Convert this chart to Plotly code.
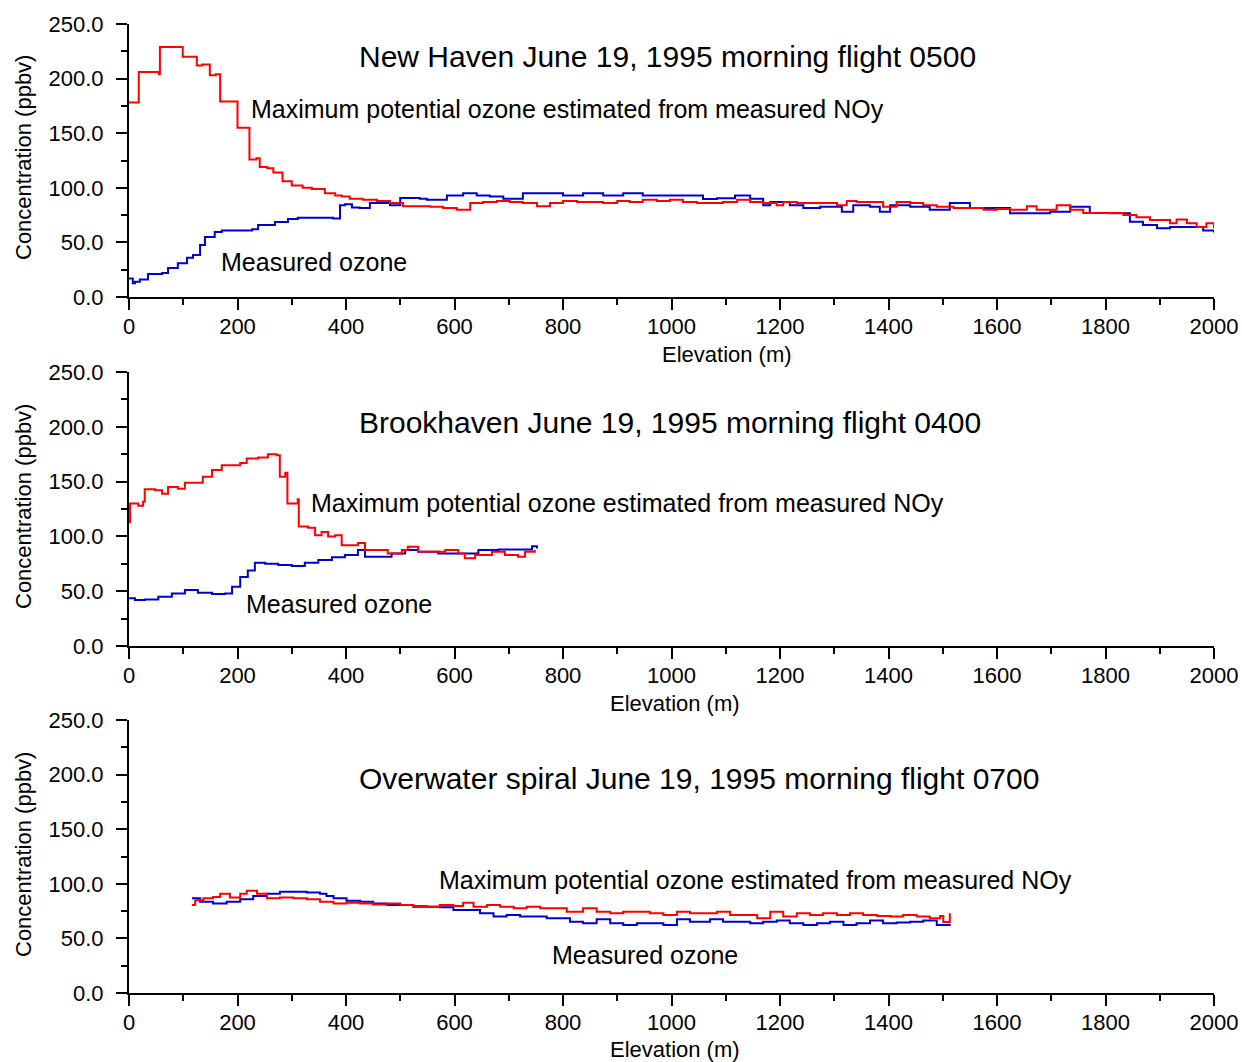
import plotly.graph_objects as go
from plotly.subplots import make_subplots

# ---------------- data ----------------
# Panel 1: New Haven, flight 0500
nh_red_x = [0, 18, 50, 55, 57, 99, 125, 135, 149, 160, 168, 200, 222, 235, 241, 255, 266, 283, 300, 320,
            337, 361, 380, 392, 407, 431, 457, 481, 505, 530, 555, 579, 604, 629, 653, 678, 702, 726, 752, 776,
            800, 826, 850, 874, 900, 923, 947, 973, 997, 1021, 1047, 1071, 1095, 1121, 1145, 1169, 1194, 1206,
            1231, 1268, 1305, 1323, 1341, 1366, 1390, 1415, 1440, 1464, 1489, 1520, 1550, 1575, 1599, 1624,
            1655, 1673, 1710, 1735, 1759, 1796, 1833, 1857, 1882, 1919, 1931, 1950, 1968, 1986, 2000]
nh_red_y = [178, 206, 206, 204, 229, 220, 212, 213, 203, 204, 179, 155, 126, 127, 119, 118, 114, 106, 102, 100,
            99, 95, 93, 92, 90, 89, 88, 86, 83, 83, 82.7, 81.5, 80, 86, 87, 88, 87, 86, 83, 86,
            88, 87, 87, 86, 88, 87, 89, 88, 89, 87, 86, 86, 87, 89, 87, 86, 84, 87,
            86, 86, 84, 88, 87, 87, 82.7, 87, 86, 84, 82.7, 81.5, 81.5, 80, 80.5, 80,
            83, 80, 84, 80, 77, 77, 75, 73, 70.5, 67.5, 71, 67.5, 64, 67.5, 63]
nh_blue_x = [0, 7, 11, 20, 35, 61, 72, 90, 107, 118, 131, 140, 158, 171, 200, 227, 238, 269, 293, 311,
             376, 389, 398, 411, 425, 444, 481, 500, 536, 549, 586, 616, 641, 665, 690, 726, 763, 800, 837,
             874, 911, 947, 984, 1034, 1058, 1084, 1117, 1145, 1169, 1182, 1218, 1243, 1274, 1305, 1314, 1335,
             1366, 1384, 1403, 1440, 1476, 1513, 1550, 1587, 1624, 1661, 1698, 1735, 1771, 1808, 1845, 1869,
             1895, 1919, 1956, 1980, 2000]
nh_blue_y = [17, 12.5, 14, 16, 21, 22, 26.5, 31, 36, 38.5, 47.6, 55, 59.5, 61, 61, 62, 66, 68.7, 71.4, 72.5,
             72, 84, 85, 82, 81.5, 86, 84, 90.6, 90, 89, 93, 95, 93, 92, 90, 95, 95, 93, 95,
             93, 95, 93, 93, 93, 89.7, 90.5, 93, 90, 84, 87, 84, 81.5, 82.7, 82.7, 78, 84,
             82.7, 78, 84, 82.7, 80, 86, 81.5, 81.5, 76.6, 76.6, 78, 82.7, 77, 76.6, 69, 66,
             63, 64, 64, 61, 59]

# Panel 2: Brookhaven, flight 0400
bh_red_x = [0, 2, 17, 26, 29, 48, 61, 72, 90, 103, 127, 136, 153, 171, 190, 205, 217, 238, 256, 272,
            278, 288, 292, 306, 311, 313, 330, 343, 355, 367, 380, 392, 422, 435, 459, 477, 503, 514, 533,
            558, 583, 607, 619, 638, 669, 693, 717, 730, 748]
bh_red_y = [113, 130, 128, 131.7, 143, 142, 139, 145, 143.5, 149, 149, 154.5, 160.6, 165, 165, 167, 171, 172, 175, 174,
            154.5, 158, 130, 130, 134, 109, 108, 101, 104, 100, 101, 92, 94, 87.6, 87.6, 84.5, 87.6, 90.6, 86,
            86, 87.6, 84.5, 80, 83, 86, 83, 81.5, 86, 87.6]
bh_blue_x = [0, 11, 29, 54, 79, 103, 127, 153, 177, 190, 205, 219, 232, 251, 275, 300, 324, 349, 374, 398,
             422, 435, 459, 484, 509, 533, 570, 607, 644, 681, 717, 743, 752]
bh_blue_y = [43.5, 42, 42.5, 45, 48, 51, 48.6, 47.5, 48, 54, 63, 69, 76, 75, 74, 73, 76, 78.5, 81, 83,
             87.6, 81.5, 81.5, 84.5, 87.6, 86, 84.5, 84.5, 87.6, 88, 88, 91, 89]

# Panel 3: Overwater spiral, flight 0700
ow_red_x = [116, 122, 137, 155, 168, 186, 205, 217, 236, 254, 278, 303, 328, 352, 377, 401, 426, 450, 475, 500,
            524, 549, 573, 598, 616, 635, 660, 684, 709, 733, 758, 782, 807, 837, 862, 887, 911, 936, 960,
            985, 1010, 1034, 1058, 1084, 1108, 1132, 1158, 1182, 1206, 1231, 1255, 1279, 1305, 1329, 1353,
            1379, 1403, 1427, 1452, 1476, 1495, 1501, 1513]
ow_red_y = [80.6, 85, 86.7, 88, 91, 87.5, 91, 93.7, 91, 86.7, 87.5, 86.7, 85.8, 83.6, 82, 82.6, 82, 81, 82, 80.6,
            79.7, 79, 80.6, 79.7, 82.6, 79, 80.6, 79, 77.5, 79, 77.5, 77.5, 74.5, 77.5, 74.5, 73, 74.5, 74.5, 73,
            71.4, 74.5, 73, 73, 74.5, 71.4, 71.4, 68.4, 74.5, 70, 73, 71.4, 73, 71.4, 73, 71.4,
            70.5, 70, 71.4, 70, 68.4, 70.5, 65, 73]
ow_blue_x = [116, 131, 155, 180, 205, 229, 254, 278, 303, 328, 352, 364, 377, 401, 426, 450, 475, 500, 524, 549,
             573, 598, 623, 647, 672, 696, 721, 745, 770, 813, 837, 862, 887, 911, 936, 960, 985, 1010, 1034,
             1058, 1071, 1095, 1120, 1145, 1169, 1194, 1218, 1243, 1268, 1292, 1317, 1341, 1366, 1390, 1415,
             1440, 1464, 1489, 1513]
ow_blue_y = [86.7, 83.6, 82, 83.6, 85.8, 88.8, 91, 92.8, 92.8, 92, 91, 88.8, 86.7, 84.5, 83.6, 82, 80.6, 80.6, 79, 79,
             78.5, 76, 76, 73, 70, 71.5, 70, 70, 68.4, 65.3, 63.8, 67.5, 63.8, 62.3, 63.8, 63.8, 62.3, 67.5, 65.3,
             65.3, 67.5, 65.3, 65.3, 63.8, 65.3, 66.3, 63.8, 62.3, 63.8, 65.3, 62.3, 63.8, 66.3, 63.8, 64.5,
             65.3, 66.3, 62.3, 61.5]

titles = ["New Haven June 19, 1995 morning flight 0500",
          "Brookhaven June 19, 1995 morning flight 0400",
          "Overwater spiral June 19, 1995 morning flight 0700"]
red_label = "Maximum potential ozone estimated from measured NOy"
blue_label = "Measured ozone"
x_title = "Elevation (m)"
y_title = "Concentration (ppbv)"

# ---------------- figure ----------------
W, H = 1242, 1062
ML, MR, MT, MB = 129, 28, 24, 69
PW, PH = W - ML - MR, H - MT - MB


def px(x):
    return (x - ML) / PW


def py(y):
    return (H - MB - y) / PH


domains = [[py(297), py(24)], [py(646), py(372)], [py(993), py(720)]]

fig = make_subplots(rows=3, cols=1)
RED = "#FF0000"
BLUE = "#0000CC"
FONT = "Liberation Sans, Arial, Helvetica, sans-serif"

series = [(nh_blue_x, nh_blue_y, nh_red_x, nh_red_y),
          (bh_blue_x, bh_blue_y, bh_red_x, bh_red_y),
          (ow_blue_x, ow_blue_y, ow_red_x, ow_red_y)]

for i, (bx, by, rx, ry) in enumerate(series, start=1):
    fig.add_trace(go.Scatter(x=bx, y=by, mode="lines", line=dict(color=BLUE, width=2, shape="hv"),
                             showlegend=False, hoverinfo="skip"), row=i, col=1)
    fig.add_trace(go.Scatter(x=rx, y=ry, mode="lines", line=dict(color=RED, width=2, shape="hv"),
                             showlegend=False, hoverinfo="skip"), row=i, col=1)

axis_common = dict(showline=True, linecolor="black", linewidth=2, ticks="outside", ticklen=11,
                   tickwidth=2, tickcolor="black", showgrid=False, zeroline=False, automargin=False,
                   tickfont=dict(family=FONT, size=22, color="black"))

for i in range(1, 4):
    xa = "xaxis" if i == 1 else f"xaxis{i}"
    ya = "yaxis" if i == 1 else f"yaxis{i}"
    fig.layout[xa].update(range=[0, 2000], dtick=200, tick0=0,
                          minor=dict(dtick=100, ticks="outside", ticklen=6, tickwidth=2, tickcolor="black",
                                     showgrid=False),
                          domain=[0, 1], ticklabelstandoff=-2, **axis_common)
    fig.layout[ya].update(range=[0, 250], dtick=50, tick0=0, tickformat=".1f",
                          minor=dict(dtick=25, ticks="outside", ticklen=6, tickwidth=2, tickcolor="black",
                                     showgrid=False),
                          domain=domains[i - 1], ticklabelstandoff=8, **axis_common)

ann = []


def text(x, y, s, size, xanchor="left", angle=0):
    ann.append(dict(x=px(x), y=py(y), xref="paper", yref="paper", text=s, showarrow=False,
                    xanchor=xanchor, yanchor="middle", textangle=angle,
                    font=dict(family=FONT, size=size, color="black")))


title_y = [57, 422, 778]
red_pos = [(250, 109), (310, 503), (438, 880)]
blue_pos = [(220, 262), (245, 604), (551, 955)]
xt_pos = [(727, 354), (675, 703), (675, 1049)]
yt_y = [158, 507, 855]

for k in range(3):
    text(357, title_y[k], titles[k], 30)
    text(red_pos[k][0] - 1, red_pos[k][1], red_label, 25)
    text(blue_pos[k][0] - 1, blue_pos[k][1], blue_label, 25)
    text(xt_pos[k][0], xt_pos[k][1], x_title, 22, xanchor="center")
    text(23, yt_y[k], y_title, 22, xanchor="center", angle=-90)

fig.update_layout(width=W, height=H, autosize=False,
                  margin=dict(l=ML, r=MR, t=MT, b=MB, autoexpand=False),
                  paper_bgcolor="white", plot_bgcolor="white", hovermode=False,
                  annotations=ann, font=dict(family=FONT, color="black"))

# remove the browser's default page margin so the figure sits at the window origin
fig.write_html("out.html", config={"displayModeBar": False, "staticPlot": True},
               post_script="document.body.style.margin='0';document.body.style.overflow='hidden';")
